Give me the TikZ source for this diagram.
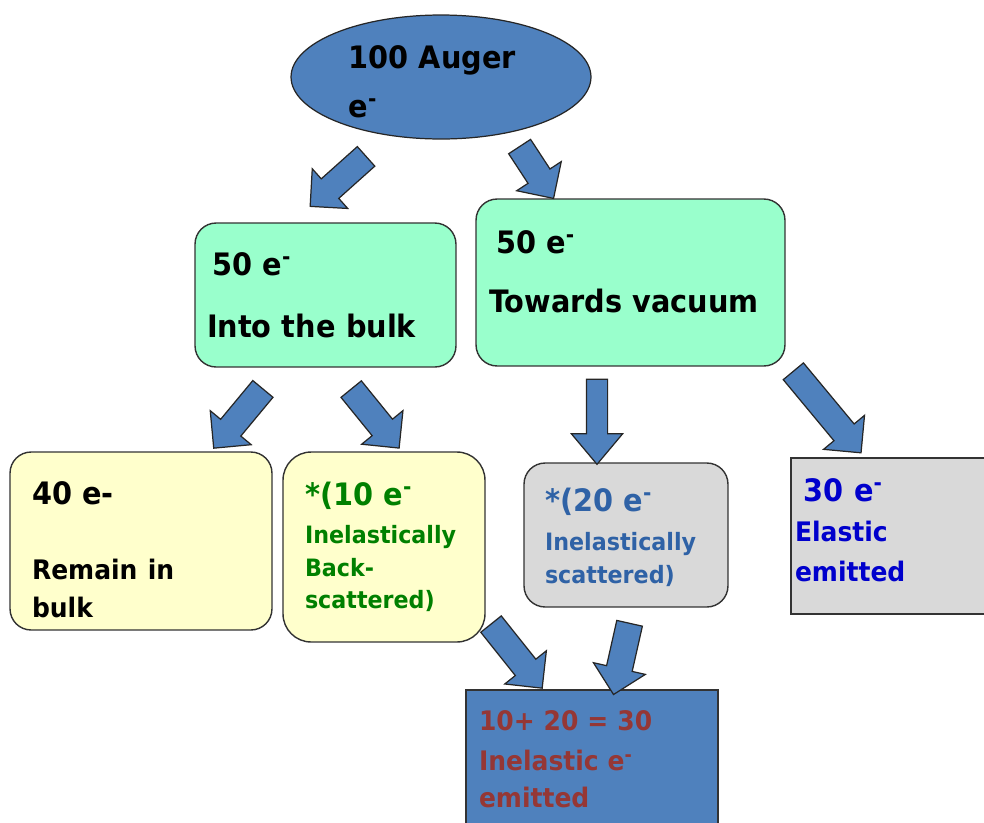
\documentclass[tikz,border=0pt]{standalone}
\usepackage{fontspec}
\setmainfont{DejaVu Sans}[FakeStretch=0.93]
\usepackage{xcolor}
\usetikzlibrary{shapes.geometric,shapes.arrows}
\definecolor{augblue}{HTML}{4F81BD}
\definecolor{mint}{HTML}{99FFCC}
\definecolor{cream}{HTML}{FFFFCC}
\definecolor{lgray}{HTML}{D9D9D9}
\definecolor{dgreen}{HTML}{008000}
\definecolor{steel}{HTML}{2F62A6}
\definecolor{eblue}{HTML}{0000CC}
\definecolor{brick}{HTML}{953735}
\newcommand{\bigsz}{\fontsize{17.6}{20}\selectfont}
\newcommand{\midsz}{\fontsize{15.3}{20}\selectfont}
\newcommand{\smlsz}{\fontsize{13.6}{20}\selectfont}
\newcommand{\elec}{e\textsuperscript{-}}
\tikzset{ell/.style={ellipse,draw=black!85,fill=augblue,line width=0.7pt,inner sep=0pt,align=left,font=\bfseries\bigsz},
  bx/.style={rectangle,draw=black!80,line width=0.8pt,rounded corners=12pt,inner ysep=0pt,align=left,font=\bfseries\bigsz},
  sq/.style={bx,sharp corners},
  blk/.style={single arrow,draw=black!85,fill=augblue,line width=0.7pt,inner xsep=0pt,inner ysep=0.25cm,minimum width=0pt,single arrow head extend=0.27cm}}

\begin{document}
\begin{tikzpicture}[x=0.02cm,y=-0.02cm]
        \useasboundingbox (0,0) rectangle (984,822);

        \node[ell,minimum width=6cm,minimum height=2.48cm,text width=3.7cm] (auger) at (441,77) {\rule{0pt}{18.4pt}100 Auger\\[8pt]\elec};

        \node[bx,fill=mint,minimum width=5.22cm,minimum height=2.88cm,inner xsep=0.24cm,text width=4.74cm] (bulk) at (325.5,295) {\hspace{3pt}50 \elec\\[15pt]Into the bulk};
        \node[bx,fill=mint,minimum width=6.18cm,minimum height=3.34cm,inner xsep=0.26cm,text width=5.66cm] (vacuum) at (630.5,282.5) {\hspace{4pt}50 \elec\\[14pt]Towards vacuum\rule[-12.4pt]{0pt}{0pt}};

        \node[bx,fill=cream,minimum width=5.24cm,minimum height=3.56cm,inner xsep=0.44cm,text width=4.36cm] (remain) at (141,541) {\rule{0pt}{23pt}40 e-\\[22.5pt]{\midsz Remain in}\\[2pt]{\midsz bulk}};
        \node[bx,fill=cream,rounded corners=16pt,text=dgreen,minimum width=4.04cm,minimum height=3.8cm,inner xsep=0.44cm,text width=3.16cm] (backsc) at (384,547) {*(10 \elec\\[2pt]{\smlsz Inelastically}\\[-1.5pt]{\smlsz Back-}\\[-1.5pt]{\smlsz scattered)}};
        \node[bx,fill=lgray,text=steel,minimum width=4.08cm,minimum height=2.88cm,inner xsep=0.42cm,text width=3.24cm] (scatt) at (626,535) {\rule{0pt}{16pt}*(20 \elec\\[2pt]{\smlsz Inelastically}\\[-1pt]{\smlsz scattered)}};
        \node[sq,fill=lgray,text=eblue,minimum width=4.18cm,minimum height=3.12cm,inner xsep=0.08cm,text width=4.02cm] (elastic) at (895.5,536) {\hspace{5pt}30 \elec\\[2.7pt]{\midsz Elastic}\\[2.7pt]{\midsz emitted}\rule[-6.8pt]{0pt}{0pt}};
        \node[sq,fill=augblue,text=brick,font=\bfseries\midsz,minimum width=5.04cm,minimum height=2.76cm,inner xsep=0.26cm,text width=4.52cm] (inelastic) at (592,759) {10+ 20 = 30\\[2.7pt]Inelastic \elec\\[1pt]emitted};

        % block arrows
        \node[blk,minimum height=1.5cm,rotate=221.8] (a1) at (343,177) {};
        \node[blk,minimum height=1.24cm,rotate=-56.8] (a2) at (533,167) {};
        \node[blk,minimum height=1.54cm,rotate=230.3] (a3) at (242.5,413.5) {};
        \node[blk,minimum height=1.52cm,rotate=-50.9] (a4) at (371,413.5) {};
        \node[blk,minimum height=1.7cm,inner ysep=0.2cm,single arrow head extend=0.3cm,single arrow tip angle=80,rotate=-90] (a5) at (597,415.5) {};
        \node[blk,minimum height=2.12cm,rotate=-50.3] (a6) at (823,407) {};
        \node[blk,minimum height=1.64cm,rotate=-51.4] (a7) at (512.5,651) {};
        \node[blk,minimum height=1.46cm,rotate=257.3] (a8) at (623,652.5) {};
    \end{tikzpicture}
\end{document}
